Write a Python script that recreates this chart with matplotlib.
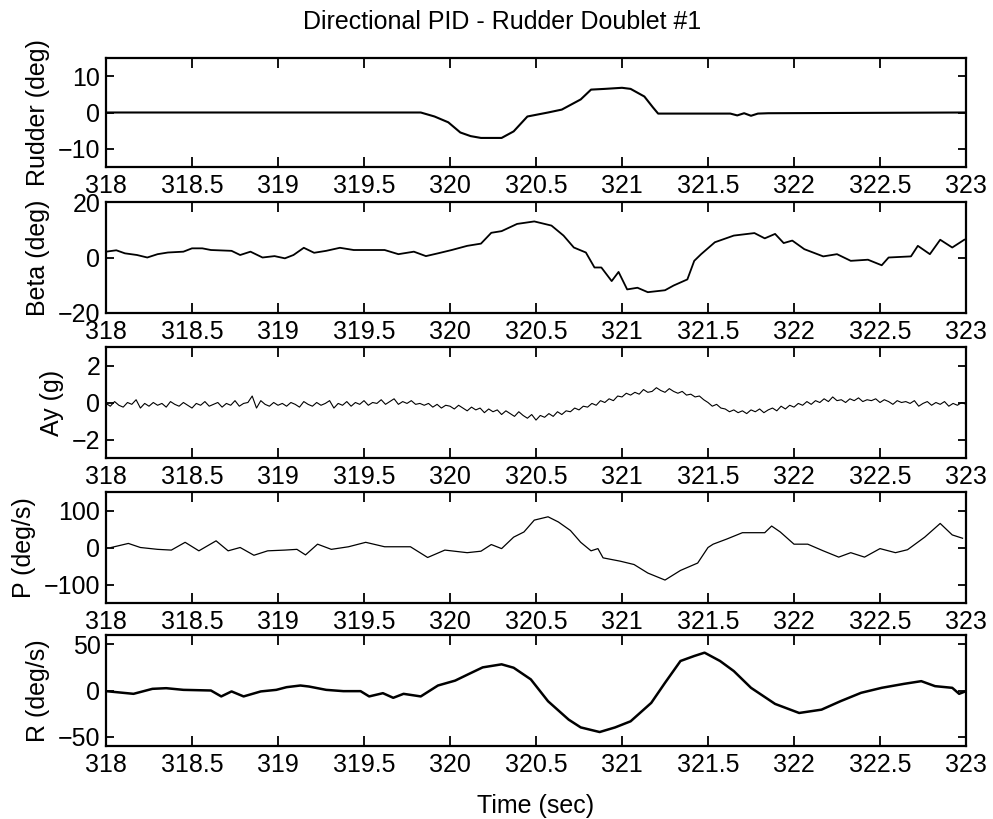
import numpy as np
import matplotlib
matplotlib.use("Agg")
import matplotlib.pyplot as plt

plt.rcParams['font.family'] = ['Liberation Sans', 'DejaVu Sans']
plt.rcParams['font.size'] = 18

# ---- data ----
# rudder deflection (deg)
rud_t = [318.0, 319.83, 319.91, 319.99, 320.06, 320.12, 320.18, 320.30, 320.37, 320.45,
         320.57, 320.65, 320.76, 320.82, 320.90, 321.0, 321.05, 321.13, 321.18, 321.21,
         321.63, 321.67, 321.71, 321.75, 321.79, 321.85, 323.0]
rud_v = [0.0, 0.0, -1.1, -2.7, -5.5, -6.5, -7.0, -7.0, -5.2, -1.1,
         0.0, 0.8, 3.6, 6.3, 6.5, 6.8, 6.5, 4.4, 1.4, -0.3,
         -0.3, -0.8, -0.2, -0.9, -0.3, -0.2, 0.0]

# sideslip (deg)
beta_t = [318.0, 318.06, 318.11, 318.18, 318.24, 318.30, 318.36, 318.45, 318.50, 318.56,
          318.61, 318.73, 318.78, 318.84, 318.91, 318.98, 319.04, 319.09, 319.15, 319.21,
          319.28, 319.36, 319.44, 319.52, 319.62, 319.70, 319.79, 319.86, 319.93, 320.01,
          320.10, 320.18, 320.24, 320.30, 320.39, 320.49, 320.59, 320.66, 320.72, 320.79,
          320.84, 320.88, 320.94, 320.98, 321.03, 321.09, 321.15, 321.25, 321.30, 321.38,
          321.42, 321.46, 321.54, 321.65, 321.77, 321.83, 321.89, 321.94, 321.99, 322.06,
          322.17, 322.25, 322.33, 322.43, 322.51, 322.55, 322.68, 322.72, 322.79, 322.85,
          322.92, 322.99]
beta_v = [2.1, 2.6, 1.5, 0.9, 0.0, 1.2, 1.8, 2.1, 3.3, 3.3,
          2.7, 2.4, 0.9, 2.1, 0.0, 0.5, -0.3, 0.9, 3.5, 1.7,
          2.4, 3.5, 2.7, 2.7, 2.7, 1.2, 2.1, 0.5, 1.5, 2.7,
          4.2, 5.0, 8.9, 9.5, 12.1, 13.0, 11.5, 7.9, 3.6, 1.8,
          -3.6, -3.6, -8.5, -5.2, -11.5, -10.9, -12.5, -11.8, -10.1, -7.9,
          -1.2, 1.2, 5.5, 7.9, 8.8, 6.9, 8.5, 5.2, 6.1, 3.0,
          0.4, 1.2, -1.2, -0.8, -2.8, 0.0, 0.4, 4.2, 1.2, 6.4,
          3.6, 6.4]

# lateral acceleration (g), sampled every 0.025 s from 318 to 323
ay_v = [-0.05, -0.2, 0.05, -0.15, -0.25, 0.0, -0.1, 0.15, -0.3, -0.05, -0.2, 0.0, -0.15, -0.05, -0.25, 0.05, -0.1, -0.2, 0.0, -0.15,
        -0.3, -0.05, -0.15, 0.05, -0.2, -0.1, 0.0, -0.25, -0.05, -0.15, 0.1, -0.2, -0.05, 0.0, 0.35, -0.3, 0.1, -0.1, -0.2, 0.0,
        -0.15, -0.05, -0.2, 0.0, -0.1, -0.25, 0.05, -0.1, -0.2, 0.0, -0.15, -0.05, 0.1, -0.3, -0.05, -0.15, 0.05, -0.2, 0.0, -0.1,
        0.1, -0.15, 0.0, -0.05, 0.15, -0.1, 0.05, 0.2, -0.1, 0.05, -0.05, 0.1, -0.1, -0.05, -0.15, -0.05, -0.25, -0.1, -0.3, -0.15,
        -0.2, -0.35, -0.15, -0.3, -0.45, -0.25, -0.4, -0.3, -0.55, -0.35, -0.5, -0.4, -0.65, -0.45, -0.6, -0.75, -0.5, -0.7, -0.85, -0.65,
        -0.95, -0.7, -0.8, -0.6, -0.75, -0.5, -0.65, -0.45, -0.5, -0.3, -0.4, -0.2, -0.25, -0.05, -0.15, 0.1, 0.0, 0.2, 0.1, 0.35,
        0.3, 0.5, 0.4, 0.55, 0.45, 0.7, 0.55, 0.6, 0.8, 0.65, 0.55, 0.75, 0.6, 0.5, 0.6, 0.4, 0.45, 0.3, 0.35, 0.15,
        0.0, -0.2, -0.1, -0.3, -0.35, -0.5, -0.4, -0.55, -0.45, -0.6, -0.4, -0.5, -0.35, -0.55, -0.4, -0.3, -0.45, -0.2, -0.35, -0.15,
        -0.25, -0.05, -0.15, 0.05, -0.1, 0.1, 0.0, 0.2, 0.05, 0.3, 0.1, 0.15, 0.0, 0.2, 0.1, 0.25, 0.05, 0.15, 0.1, 0.2,
        0.0, 0.15, 0.05, -0.1, 0.1, 0.0, 0.05, -0.05, 0.1, -0.2, -0.05, 0.05, -0.15, 0.0, -0.1, 0.05, -0.2, -0.05, -0.15, 0.0,
        -0.1]
ay_t = np.linspace(318.0, 323.0, len(ay_v))

# roll rate (deg/s)
p_t = [318.03, 318.13, 318.20, 318.30, 318.38, 318.46, 318.54, 318.64, 318.71, 318.78,
       318.86, 318.94, 319.04, 319.11, 319.16, 319.23, 319.31, 319.41, 319.51, 319.62,
       319.77, 319.87, 319.97, 320.10, 320.18, 320.24, 320.30, 320.37, 320.43, 320.49,
       320.57, 320.63, 320.70, 320.76, 320.82, 320.86, 320.89, 320.99, 321.07, 321.15,
       321.25, 321.34, 321.44, 321.50, 321.53, 321.61, 321.70, 321.83, 321.87, 321.92,
       322.00, 322.08, 322.17, 322.26, 322.33, 322.41, 322.50, 322.59, 322.66, 322.76,
       322.85, 322.92, 322.98]
p_v = [0, 11, 0, -5, -7, 14, -9, 18, -9, 0,
       -21, -9, -7, -5, -20, 9, -5, 2, 14, 2,
       2, -27, -7, -14, -10, 8, -3, 28, 42, 74,
       83, 69, 46, 14, -9, -3, -28, -37, -46, -69,
       -88, -62, -42, 0, 9, 23, 40, 40, 58, 42,
       9, 9, -9, -26, -14, -26, -3, -14, -6, 28,
       65, 34, 25]

# yaw rate (deg/s)
r_t = [318.0, 318.16, 318.27, 318.35, 318.45, 318.61, 318.67, 318.73, 318.80, 318.90,
       318.99, 319.05, 319.13, 319.18, 319.28, 319.38, 319.48, 319.53, 319.61, 319.67,
       319.73, 319.83, 319.93, 320.03, 320.11, 320.19, 320.30, 320.37, 320.47, 320.57,
       320.69, 320.76, 320.87, 320.96, 321.05, 321.17, 321.25, 321.34, 321.42, 321.48,
       321.57, 321.65, 321.75, 321.89, 322.03, 322.16, 322.27, 322.39, 322.51, 322.64,
       322.74, 322.82, 322.92, 322.96, 323.0]
r_v = [-0.7, -3.6, 1.8, 2.5, 0.7, 0.0, -6.4, -1.0, -6.4, -1.0,
       0.7, 3.6, 5.4, 4.3, 0.7, -0.7, -0.7, -6.4, -2.9, -7.9,
       -3.6, -6.4, 5.4, 10.7, 17.9, 25.0, 28.3, 24.6, 12.0, -11.6,
       -31.5, -39.9, -44.9, -39.9, -33.3, -13.4, 8.3, 31.9, 37.3, 40.9,
       31.9, 21.0, 2.9, -14.5, -24.3, -20.7, -11.6, -2.5, 2.9, 7.2,
       10.1, 4.7, 2.9, -3.6, -0.7]

x_ticks = [318, 318.5, 319, 319.5, 320, 320.5, 321, 321.5, 322, 322.5, 323]
x_tick_labels = ['318', '318.5', '319', '319.5', '320', '320.5', '321', '321.5', '322', '322.5', '323']

panels = [
    ('Rudder (deg)', rud_t, rud_v, (-15, 15), [-10, 0, 10], 1.5),
    ('Beta (deg)', beta_t, beta_v, (-20, 20), [-20, 0, 20], 1.3),
    ('Ay (g)', ay_t, ay_v, (-3, 3), [-2, 0, 2], 0.8),
    ('P (deg/s)', p_t, p_v, (-150, 150), [-100, 0, 100], 0.9),
    ('R (deg/s)', r_t, r_v, (-60, 60), [-50, 0, 50], 1.8),
]

fig = plt.figure(figsize=(9.93, 8.19), dpi=100)

# axes placement in pixels (top, bottom)
W, H = 993.0, 819.0
left_px, right_px = 106, 966
rows_px = [(58, 167), (202, 313), (347, 458), (492, 603), (635, 746)]

axes = []
for (label, t, v, ylim, yticks, lw), (top, bot) in zip(panels, rows_px):
    ax = fig.add_axes([left_px / W, 1 - bot / H, (right_px - left_px) / W, (bot - top) / H])
    ax.plot(t, v, color='black', lw=lw)
    ax.set_xlim(318, 323)
    ax.set_ylim(*ylim)
    ax.set_xticks(x_ticks)
    ax.set_xticklabels(x_tick_labels)
    ax.set_yticks(yticks)
    ax.set_ylabel(label, labelpad=6)
    ax.tick_params(axis='x', direction='in', top=True, length=7, width=1.3, pad=5)
    ax.tick_params(axis='y', direction='in', right=True, length=6, width=1.3, pad=4)
    for s in ax.spines.values():
        s.set_linewidth(1.6)
    axes.append(ax)

axes[-1].set_xlabel('Time (sec)', labelpad=12)
fig.text(502 / W, 1 - 22 / H, 'Directional PID - Rudder Doublet #1', ha='center', va='center')

fig.savefig('out.png', dpi=100)
